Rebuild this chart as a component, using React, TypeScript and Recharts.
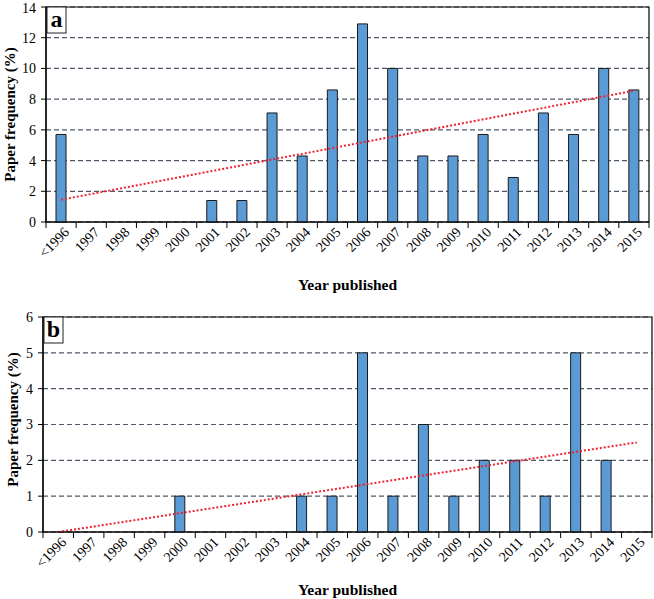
import {
  Bar,
  CartesianGrid,
  ComposedChart,
  Line,
  ReferenceArea,
  XAxis,
  YAxis,
} from "recharts";

const years = [
  "<1996", "1997", "1998", "1999", "2000", "2001", "2002", "2003", "2004", "2005",
  "2006", "2007", "2008", "2009", "2010", "2011", "2012", "2013", "2014", "2015",
];

// panel a — share of all papers per year (%)
const freqA = [5.7, 0, 0, 0, 0, 1.4, 1.4, 7.1, 4.3, 8.6, 12.9, 10, 4.3, 4.3, 5.7, 2.9, 7.1, 5.7, 10, 8.6];
const trendA = [1.45, 8.55]; // linear trend, first and last year
const ticksA = [0, 2, 4, 6, 8, 10, 12, 14];

// panel b
const freqB = [0, 0, 0, 0, 1, 0, 0, 0, 1, 1, 5, 1, 3, 1, 2, 2, 1, 5, 2, 0];
const trendB = [0, 2.5];
const ticksB = [0, 1, 2, 3, 4, 5, 6];

const FONT = "'Liberation Serif', 'Times New Roman', serif";
const BLUE = "#5b9bd5";
const GRID = "#4f5a68";
const RED = "#ee2233";

function buildRows(freq: number[], trend: number[]) {
  const last = years.length - 1;
  return years.map((year, i) => ({
    year,
    freq: freq[i],
    trend: i === 0 ? trend[0] : i === last ? trend[1] : null,
  }));
}

function YearTick(props: any) {
  const { x, y, payload, index } = props;
  const half = payload?.offset ?? 15;
  const tx = x + 9;
  const ty = y + 11;
  return (
    <g>
      {index === 0 && (
        <line x1={x - half} x2={x - half} y1={y} y2={y + 6} stroke="#000" />
      )}
      <line x1={x + half} x2={x + half} y1={y} y2={y + 6} stroke="#000" />
      <text
        x={tx}
        y={ty}
        transform={`rotate(-45, ${tx}, ${ty})`}
        textAnchor="end"
        fontFamily={FONT}
        fontSize={14}
        fill="#000"
      >
        {payload.value}
      </text>
    </g>
  );
}

function PanelTag({ viewBox, letter }: any) {
  const { x, y } = viewBox;
  return (
    <g>
      <rect x={x + 1} y={y} width={19} height={26} fill="#fff" stroke="#222" />
      <text
        x={x + 10.5}
        y={y + 20}
        textAnchor="middle"
        fontFamily={FONT}
        fontWeight="bold"
        fontSize={24}
        fill="#000"
      >
        {letter}
      </text>
    </g>
  );
}

function YTitle({ viewBox, dx = 10, dy = 0 }: any) {
  const cx = viewBox.x + dx;
  const cy = viewBox.y + viewBox.height / 2 + dy;
  return (
    <text
      x={cx}
      y={cy}
      transform={`rotate(-90, ${cx}, ${cy})`}
      textAnchor="middle"
      dominantBaseline="central"
      fontFamily={FONT}
      fontWeight="bold"
      fontSize={15}
      fill="#000"
    >
      Paper frequency (%)
    </text>
  );
}

function Panel({
  letter,
  freq,
  trend,
  ticks,
  height,
  margin,
  yWidth,
  xHeight,
  labelOffset,
  titleDx,
  titleDy,
}: {
  letter: string;
  freq: number[];
  trend: number[];
  ticks: number[];
  height: number;
  margin: { top: number; right: number; bottom: number; left: number };
  yWidth: number;
  xHeight: number;
  labelOffset: number;
  titleDx: number;
  titleDy: number;
}) {
  const rows = buildRows(freq, trend);
  const top = ticks[ticks.length - 1];
  return (
    <ComposedChart width={654} height={height} data={rows} margin={margin}>
      <CartesianGrid
        vertical={false}
        stroke={GRID}
        strokeDasharray="5 3"
        strokeWidth={1.2}
      />
      <XAxis
        dataKey="year"
        interval={0}
        height={xHeight}
        tickLine={false}
        tickSize={0}
        tickMargin={0}
        axisLine={{ stroke: "#000", strokeWidth: 1.2 }}
        tick={<YearTick />}
        label={{
          value: "Year published",
          position: "insideBottom",
          offset: labelOffset,
          fontFamily: FONT,
          fontWeight: "bold",
          fontSize: 15.5,
          fill: "#000",
        }}
      />
      <YAxis
        type="number"
        domain={[0, top]}
        ticks={ticks}
        width={yWidth}
        tickSize={5}
        tickMargin={5}
        axisLine={{ stroke: "#000", strokeWidth: 1.2 }}
        tickLine={{ stroke: "#000" }}
        tick={{ fontFamily: FONT, fontSize: 14, fill: "#000" }}
        label={(p: any) => <YTitle {...p} dx={titleDx} dy={titleDy} />}
      />
      <ReferenceArea
        y1={0}
        y2={top}
        fill="none"
        fillOpacity={0}
        stroke="#000"
        strokeWidth={1.2}
        label={(p: any) => <PanelTag {...p} letter={letter} />}
      />
      <Bar
        dataKey="freq"
        barSize={10}
        fill={BLUE}
        stroke="#1a1a1a"
        strokeWidth={1}
        isAnimationActive={false}
      />
      <Line
        dataKey="trend"
        connectNulls
        dot={false}
        activeDot={false}
        stroke={RED}
        strokeWidth={2}
        strokeDasharray="2 2"
        isAnimationActive={false}
      />
    </ComposedChart>
  );
}

export default function App() {
  return (
    <div
      style={{
        position: "absolute",
        left: 0,
        top: 0,
        width: 654,
        height: 599,
        background: "#fff",
      }}
    >
      <div style={{ position: "absolute", left: 0, top: 0 }}>
        <Panel
          letter="a"
          freq={freqA}
          trend={trendA}
          ticks={ticksA}
          height={295}
          margin={{ top: 7, right: 5, bottom: 0, left: 0 }}
          yWidth={46}
          xHeight={73}
          labelOffset={5}
          titleDx={10}
          titleDy={0}
        />
      </div>
      <div style={{ position: "absolute", left: 0, top: 300 }}>
        <Panel
          letter="b"
          freq={freqB}
          trend={trendB}
          ticks={ticksB}
          height={299}
          margin={{ top: 17, right: 2, bottom: 0, left: 0 }}
          yWidth={43}
          xHeight={67}
          labelOffset={4}
          titleDx={13}
          titleDy={-5}
        />
      </div>
    </div>
  );
}
